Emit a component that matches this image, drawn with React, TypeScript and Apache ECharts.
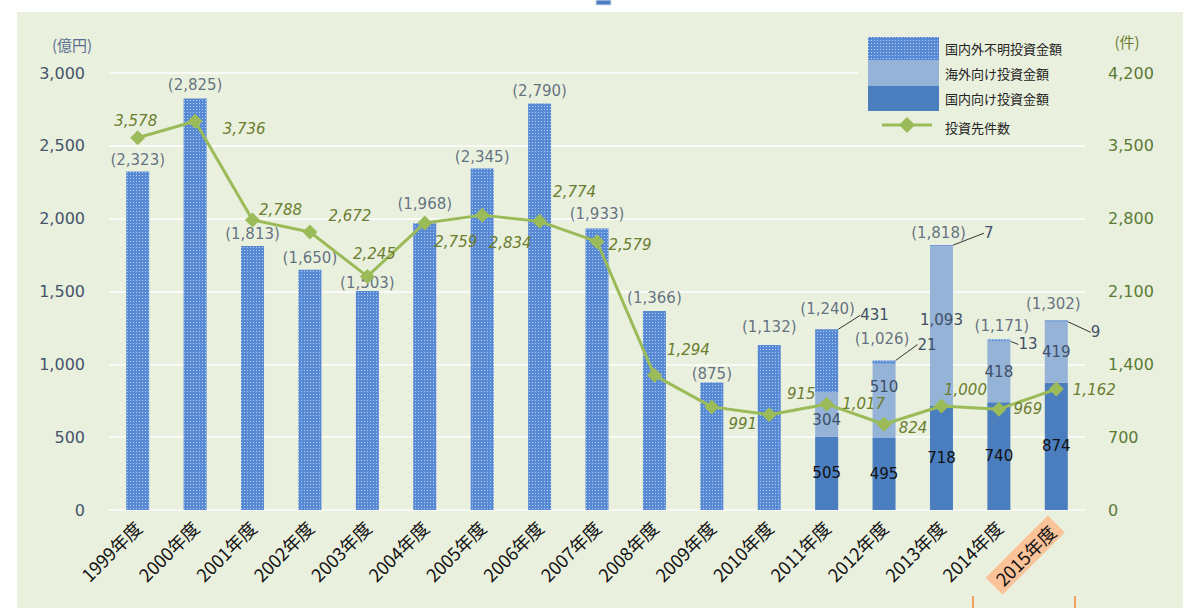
import React, { useEffect, useRef } from 'react';
import * as echarts from 'echarts';

const categories = ['1999年度', '2000年度', '2001年度', '2002年度', '2003年度', '2004年度', '2005年度', '2006年度', '2007年度', '2008年度', '2009年度', '2010年度', '2011年度', '2012年度', '2013年度', '2014年度', '2015年度'];
const unknownAmt = [2323, 2825, 1813, 1650, 1503, 1968, 2345, 2790, 1933, 1366, 875, 1132, 431, 21, 7, 13, 9];
const overseasAmt: (number | null)[] = [null, null, null, null, null, null, null, null, null, null, null, null, 304, 510, 1093, 418, 419];
const domesticAmt: (number | null)[] = [null, null, null, null, null, null, null, null, null, null, null, null, 505, 495, 718, 740, 874];
const totalAmt = [2323, 2825, 1813, 1650, 1503, 1968, 2345, 2790, 1933, 1366, 875, 1132, 1240, 1026, 1818, 1171, 1302];
const investCount = [3578, 3736, 2788, 2672, 2245, 2759, 2834, 2774, 2579, 1294, 991, 915, 1017, 824, 1000, 969, 1162];

const leftAxis = { min: 0, max: 3000, interval: 500 };
const rightAxis = { min: 0, max: 4200, interval: 700 };

// label layout tweaks (pixels)
const countLabelOffset: [number, number][] = [
  [-2, -17], [49, 8], [28, -10], [40, -16], [7, -22], [31, 19], [28, 28], [35, -29], [33, 3],
  [34, -25], [31, 17], [32, -21], [37, 0], [29, 4], [24, -16], [29, 0], [38, 1],
];
const totalLabelOffset: [number, number][] = [
  [0, 0], [0, -2], [0, 0], [0, 0], [0, 3], [0, -8], [0, 0], [0, -1], [0, -3], [0, -2], [0, 3], [0, -7],
  [1, -9], [-2, -10], [-3, -1], [3, -2], [-3, -5],
];
const unkLabelLayout: [number, number, number, number][] = [
  [22, -14, 18, -10],
  [22, -16, 20, -13],
  [31, -12, 17, -6],
  [8, 5, 5, 3],
  [23, 12, 13, 9],
];
const overseasLabelDy: Record<number, number> = { 12: 6, 13: -14, 14: -6 };

const fmt = (v: number) => v.toLocaleString('en-US');
const NUM_FONT = 'DejaVu Sans';
const CJK_FONT = '"Noto Sans CJK JP", "Noto Sans CJK SC", sans-serif';

export default function App() {
  const ref = useRef<HTMLDivElement>(null);
  useEffect(() => {
    const chart = echarts.init(ref.current!, null, { renderer: 'svg' });
    const cv = document.createElement('canvas');
    cv.width = 3;
    cv.height = 3;
    const ctx = cv.getContext('2d')!;
    ctx.fillStyle = '#5889d4';
    ctx.fillRect(0, 0, 3, 3);
    ctx.fillStyle = '#b4cdf2';
    ctx.fillRect(1, 1, 1, 1);
    const pattern: any = { image: cv, repeat: 'repeat' };

    const panel = '#eaf0de';
    const labelBlue = '#3f5068';
    const option: any = {
      animation: false,
      grid: { left: 109, right: 115, top: 73, bottom: 98, containLabel: false },
      xAxis: {
        type: 'category',
        data: categories,
        axisTick: { show: false },
        axisLine: { show: true, lineStyle: { color: '#f7f9f2', width: 1.5 } },
        axisLabel: {
          rotate: 45,
          margin: 14,
          fontSize: 18,
          color: '#111',
          fontFamily: CJK_FONT,
          formatter: (v: string, i: number) => (i === categories.length - 1 ? `{hl|${v}}` : v),
          rich: {
            hl: { backgroundColor: '#fbc39a', padding: [3, 6, 3, 6], fontSize: 18, color: '#111', fontFamily: CJK_FONT },
          },
        },
      },
      yAxis: [
        {
          type: 'value',
          ...leftAxis,
          axisLine: { show: false },
          axisTick: { show: false },
          splitLine: { lineStyle: { color: '#ffffff', width: 1.5 } },
          axisLabel: { margin: 24, fontSize: 16, color: '#44546a', fontFamily: NUM_FONT, formatter: (v: number) => fmt(v) },
        },
        {
          type: 'value',
          ...rightAxis,
          axisLine: { show: false },
          axisTick: { show: false },
          splitLine: { show: false },
          axisLabel: { margin: 23, fontSize: 16, color: '#5b7a35', fontFamily: NUM_FONT, formatter: (v: number) => fmt(v) },
        },
      ],
      series: [
        {
          name: '国内向け投資金額',
          type: 'bar',
          stack: 'amt',
          barWidth: 23,
          data: domesticAmt.map((v) => (v == null ? '-' : v)),
          itemStyle: { color: '#4a7ebf' },
          label: { show: true, position: 'inside', color: '#111', fontSize: 15, fontFamily: NUM_FONT, formatter: (p: any) => fmt(p.value) },
        },
        {
          name: '海外向け投資金額',
          type: 'bar',
          stack: 'amt',
          barWidth: 23,
          data: overseasAmt.map((v, i) =>
            v == null ? '-' : { value: v, label: { offset: [0, overseasLabelDy[i] || 0] } }
          ),
          itemStyle: { color: '#95b3d7' },
          label: { show: true, position: 'inside', color: labelBlue, fontSize: 15, fontFamily: NUM_FONT, formatter: (p: any) => fmt(p.value) },
        },
        {
          name: '国内外不明投資金額',
          type: 'bar',
          stack: 'amt',
          barWidth: 23,
          data: unknownAmt.map((v, i) =>
            i >= 12
              ? { value: v, label: { show: true }, labelLine: { show: true, lineStyle: { color: '#333', width: 1 } } }
              : { value: v, label: { show: false } }
          ),
          itemStyle: { color: pattern },
          label: { show: false, position: 'right', color: labelBlue, fontSize: 15, fontFamily: NUM_FONT, formatter: (p: any) => fmt(p.value) },
          labelLayout: (params: any) => {
            const i = params.dataIndex;
            if (i < 12) return {};
            const r = params.rect;
            const o = unkLabelLayout[i - 12];
            const R = r.x + r.width;
            const T = r.y;
            const x = R + o[0];
            const y = T + o[1];
            return {
              x,
              y,
              align: 'left',
              verticalAlign: 'middle',
              labelLinePoints: [[R - 1, T + 1], [R + o[2], T + o[3]], [R + o[2], T + o[3]]],
            };
          },
        },
        {
          name: 'total',
          type: 'scatter',
          symbolSize: 0,
          silent: true,
          z: 5,
          data: totalAmt.map((v, i) => ({ value: v, label: { offset: totalLabelOffset[i] } })),
          label: {
            show: true,
            position: 'top',
            distance: 4,
            color: labelBlue,
            fontSize: 15,
            fontFamily: NUM_FONT,
            formatter: (p: any) => `(${fmt(p.value)})`,
          },
        },
        {
          name: '投資先件数',
          type: 'line',
          yAxisIndex: 1,
          z: 6,
          data: investCount.map((v, i) => ({ value: v, label: { offset: countLabelOffset[i] } })),
          symbol: 'diamond',
          symbolSize: 15,
          lineStyle: { color: '#9bbb59', width: 3 },
          itemStyle: { color: '#9bbb59' },
          label: {
            show: true,
            position: 'inside',
            color: '#6b7d2e',
            fontStyle: 'italic',
            fontSize: 15,
            fontFamily: NUM_FONT,
            formatter: (p: any) => fmt(p.value),
          },
        },
      ],
      graphic: [
        { type: 'rect', z: 10, shape: { x: 858, y: 30, width: 232, height: 108 }, style: { fill: panel } },
        { type: 'rect', z: 11, shape: { x: 868, y: 37, width: 71, height: 23 }, style: { fill: pattern } },
        { type: 'rect', z: 11, shape: { x: 868, y: 60, width: 71, height: 26 }, style: { fill: '#95b3d7' } },
        { type: 'rect', z: 11, shape: { x: 868, y: 86, width: 71, height: 25 }, style: { fill: '#4a7ebf' } },
        { type: 'line', z: 11, shape: { x1: 882, y1: 125, x2: 932, y2: 125 }, style: { stroke: '#9bbb59', lineWidth: 3 } },
        { type: 'polygon', z: 12, shape: { points: [[907, 117], [915, 125], [907, 133], [899, 125]] }, style: { fill: '#9bbb59' } },
        { type: 'text', z: 12, style: { x: 945, y: 48, text: '国内外不明投資金額', fontSize: 13, fontFamily: CJK_FONT, fill: '#222', verticalAlign: 'middle' } },
        { type: 'text', z: 12, style: { x: 945, y: 73, text: '海外向け投資金額', fontSize: 13, fontFamily: CJK_FONT, fill: '#222', verticalAlign: 'middle' } },
        { type: 'text', z: 12, style: { x: 945, y: 98, text: '国内向け投資金額', fontSize: 13, fontFamily: CJK_FONT, fill: '#222', verticalAlign: 'middle' } },
        { type: 'text', z: 12, style: { x: 945, y: 127, text: '投資先件数', fontSize: 13, fontFamily: CJK_FONT, fill: '#222', verticalAlign: 'middle' } },
        { type: 'text', z: 12, style: { x: 72, y: 44, text: '(億円)', fontSize: 15, fontFamily: CJK_FONT, fill: '#5a6f8c', align: 'center', verticalAlign: 'middle' } },
        { type: 'text', z: 12, style: { x: 1127, y: 41, text: '(件)', fontSize: 15, fontFamily: CJK_FONT, fill: '#6b7d2e', align: 'center', verticalAlign: 'middle' } },
        { type: 'rect', z: 12, shape: { x: 596, y: 0, width: 15, height: 5 }, style: { fill: '#4a7fc8', stroke: '#d5dbe3', lineWidth: 1 } },
        { type: 'line', z: 12, shape: { x1: 973, y1: 596, x2: 973, y2: 608 }, style: { stroke: '#f0a060', lineWidth: 2 } },
        { type: 'line', z: 12, shape: { x1: 1075, y1: 596, x2: 1075, y2: 608 }, style: { stroke: '#f0a060', lineWidth: 2 } },
      ],
    };
    chart.setOption(option);
    return () => chart.dispose();
  }, []);

  return (
    <div style={{ position: 'absolute', left: 0, top: 0, width: 1200, height: 608, background: '#ffffff', overflow: 'hidden' }}>
      <div style={{ position: 'absolute', left: 17, top: 12, width: 1166, height: 596, background: '#eaf0de' }} />
      <div ref={ref} style={{ position: 'absolute', left: 0, top: 0, width: 1200, height: 608 }} />
    </div>
  );
}
